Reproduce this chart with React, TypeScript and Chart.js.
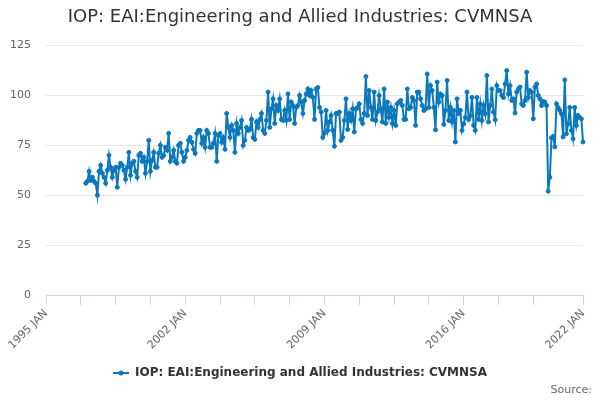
import { useEffect, useRef } from "react"
import { Chart, registerables } from "chart.js"

Chart.register(...registerables)

const FONT = "'DejaVu Sans', Verdana, sans-serif"
const SERIES_NAME = "IOP: EAI:Engineering and Allied Industries: CVMNSA"
const SOURCE_TEXT = "Source:"

const MONTHS = ["JAN", "FEB", "MAR", "APR", "MAY", "JUN", "JUL", "AUG", "SEP", "OCT", "NOV", "DEC"]
const FIRST_YEAR = 1995
const LAST_CATEGORY = "2022 JAN"

// every month on the axis, 1995 JAN .. 2022 JAN
const categories: string[] = []
for (let y = FIRST_YEAR; y <= 2022; y++) {
  for (const m of MONTHS) {
    categories.push(`${y} ${m}`)
    if (`${y} ${m}` === LAST_CATEGORY) break
  }
}

// labelled ticks on the x axis
const xTickLabels = ["1995 JAN", "2002 JAN", "2009 JAN", "2016 JAN", "2022 JAN"]
// small tick marks every 21 months
const TICK_MARK_STEP = 21

const SERIES_START = "1997 JAN"

// monthly index values, 1997 JAN .. 2022 JAN
const cvmnsa = [
  56, 57, 62, 57.5, 59, 57, 56, 50, 62, 65, 61, 59, // 1997
  56, 62.5, 70, 64, 59, 62.5, 64, 54, 64, 66, 65, 62.5, // 1998
  58, 64, 71.5, 60, 66, 67, 62, 59, 70, 71, 67, 69, // 1999
  61, 67, 77.5, 62, 67.5, 71.5, 64, 64, 71, 75, 69, 70, // 2000
  74, 72.5, 81, 67, 69, 72.5, 67, 66, 75, 76, 71.5, 67, // 2001
  69, 72.5, 77.5, 79, 76.5, 73, 71, 81, 82.5, 82.5, 76, 79, // 2002
  74, 82.5, 81, 74, 74, 76, 81, 67, 80, 81, 76.5, 79, // 2003
  73, 91, 84, 79, 85, 82.5, 71.5, 86, 81, 84, 87.5, 75, // 2004
  77.5, 84, 82.5, 83, 88, 79, 78, 86.7, 84, 88, 91, 82.5, // 2005
  81, 87.5, 101.7, 84, 93.3, 98.3, 86, 95, 92.5, 98.3, 88, 87.5, // 2006
  92.5, 87.5, 100.8, 88, 96.7, 95, 86, 94, 95, 100, 96.7, 91, // 2007
  97.5, 100.8, 103.3, 100, 102.5, 99, 88, 103.3, 104, 94, 91.7, 79, // 2008
  81, 92.5, 82.5, 86.7, 90, 82.5, 74.5, 91, 91, 91.7, 77.5, 79, // 2009
  87.5, 98.3, 83, 91, 87.5, 93.3, 81.7, 93.3, 94, 95.8, 88, 86, // 2010
  91, 109.5, 90, 102.5, 94, 88, 101.7, 87.5, 91.7, 100, 93.3, 86.7, // 2011
  103.3, 86, 96.7, 89, 94, 86, 92.5, 85, 95.8, 96.7, 97.5, 95, // 2012
  88, 88, 103.3, 93.3, 94, 99, 97.5, 85, 101.7, 101.7, 98.3, 95, // 2013
  92.5, 93.3, 110.8, 94, 105, 102.5, 94, 82.8, 106.7, 96.7, 100.8, 100, // 2014
  85.5, 92.5, 107.5, 87.5, 94, 86.7, 92.5, 76.7, 98.3, 91, 92.5, 82.5, // 2015
  85.8, 89, 101.7, 88, 89.7, 99, 85, 82.5, 99, 88, 95.8, 87.5, // 2016
  95, 90.8, 110, 86.7, 95, 103.3, 91.7, 87.8, 105, 102.5, 102.5, 100, // 2017
  99, 105.8, 112.5, 100.8, 105, 97.5, 98.3, 91.2, 101.7, 103.3, 104.2, 95.8, // 2018
  95, 97.5, 111.7, 99, 102.5, 101.7, 88.3, 104.2, 105.8, 100, 98.3, 95, // 2019
  97, 96.7, 95, 52, 59, 78.8, 79.5, 74.2, 95.8, 94, 92.5, 90.8, // 2020
  79.2, 107.8, 80.8, 85.8, 94, 82.5, 78.3, 94, 85, 90, 89, 88.3, // 2021
  76.7, // 2022
]

const Y_MIN = 0
const Y_MAX = 125
const Y_STEP = 25

const LINE_COLOR = "#0b78be"

const sourceNote = {
  id: "sourceNote",
  afterDraw(chart: Chart) {
    const { ctx, width, height } = chart
    ctx.save()
    ctx.font = `11px ${FONT}`
    ctx.fillStyle = "#666666"
    ctx.textAlign = "right"
    ctx.textBaseline = "middle"
    ctx.fillText(SOURCE_TEXT, width - 8, height - 10)
    ctx.restore()
  },
}

function legendSymbol() {
  const c = document.createElement("canvas")
  c.width = 16
  c.height = 8
  const g = c.getContext("2d")
  if (g) {
    g.strokeStyle = LINE_COLOR
    g.lineWidth = 2
    g.beginPath()
    g.moveTo(0, 4)
    g.lineTo(16, 4)
    g.stroke()
    g.fillStyle = LINE_COLOR
    g.beginPath()
    g.arc(8, 4, 2.5, 0, Math.PI * 2)
    g.fill()
  }
  return c
}

function EngineeringChart() {
  const chartRef = useRef<HTMLCanvasElement>(null)
  const chartInstance = useRef<Chart | null>(null)

  useEffect(() => {
    document.body.style.margin = "0"
    if (!chartRef.current) return
    const ctx = chartRef.current.getContext("2d")
    if (!ctx) return

    if (chartInstance.current) {
      chartInstance.current.destroy()
    }

    const startIndex = categories.indexOf(SERIES_START)
    const lastIndex = categories.length - 1
    const values = categories.map((_, i) => {
      const k = i - startIndex
      return k >= 0 && k < cvmnsa.length ? cvmnsa[k] : null
    })

    const isTickMark = (i: number) =>
      (i % TICK_MARK_STEP === 0 && i + TICK_MARK_STEP <= lastIndex) || i === lastIndex

    chartInstance.current = new Chart(ctx, {
      type: "line",
      data: {
        labels: categories,
        datasets: [
          {
            label: SERIES_NAME,
            data: values,
            borderColor: LINE_COLOR,
            backgroundColor: LINE_COLOR,
            borderWidth: 2,
            pointRadius: 2,
            pointBorderWidth: 1,
            pointBackgroundColor: LINE_COLOR,
            pointBorderColor: LINE_COLOR,
            pointHoverRadius: 2,
            tension: 0,
          },
        ],
      },
      options: {
        responsive: false,
        animation: false,
        layout: {
          padding: { left: 8, right: 8, top: 0, bottom: 11 },
        },
        plugins: {
          title: {
            display: true,
            text: SERIES_NAME,
            color: "#333333",
            font: { family: FONT, size: 18, weight: "normal" },
            padding: { top: 7, bottom: 17 },
          },
          legend: {
            display: true,
            position: "bottom",
            labels: {
              color: "#333333",
              font: { family: FONT, size: 12, weight: "bold" },
              usePointStyle: true,
              pointStyle: legendSymbol(),
              pointStyleWidth: 16,
              padding: 10,
            },
          },
          tooltip: { enabled: false },
        },
        scales: {
          x: {
            type: "category",
            grid: {
              drawOnChartArea: false,
              drawTicks: true,
              tickLength: 10,
              color: (c: any) => (isTickMark(c.index) ? "#ccd6eb" : "rgba(0,0,0,0)"),
            },
            border: { color: "#ccd6eb" },
            ticks: {
              autoSkip: false,
              maxRotation: 45,
              minRotation: 45,
              color: "#666666",
              font: { family: FONT, size: 11 },
              padding: 2,
              callback: function (this: any, value: any) {
                const label = this.getLabelForValue(value)
                return xTickLabels.includes(label) ? label : ""
              },
            },
            afterFit: (scale: any) => {
              scale.height = 62
              // right gap of the plot; the layout takes the larger of this and its own padding
              scale.paddingRight = 17
            },
          },
          y: {
            min: Y_MIN,
            max: Y_MAX,
            grid: { color: "#e6e6e6", drawTicks: false },
            border: { display: false },
            ticks: {
              stepSize: Y_STEP,
              color: "#666666",
              font: { family: FONT, size: 11 },
              padding: 15,
            },
            afterFit: (scale: any) => {
              scale.width = 38
            },
          },
        },
      },
      plugins: [sourceNote],
    })

    return () => {
      if (chartInstance.current) {
        chartInstance.current.destroy()
        chartInstance.current = null
      }
    }
  }, [])

  return (
    <div style={{ width: 600, height: 400 }}>
      <canvas ref={chartRef} width={600} height={400}></canvas>
    </div>
  )
}

export default function App() {
  return <EngineeringChart />
}
